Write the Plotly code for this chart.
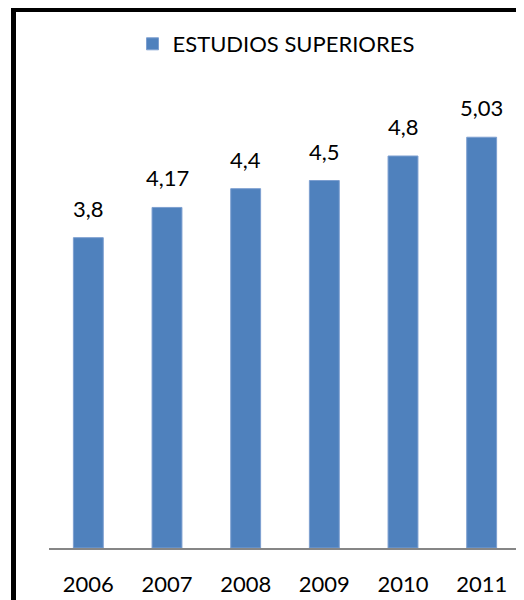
import plotly.graph_objects as go

years = ["2006", "2007", "2008", "2009", "2010", "2011"]
values = [3.8, 4.17, 4.4, 4.5, 4.8, 5.03]
labels = ["3,8", "4,17", "4,4", "4,5", "4,8", "5,03"]
series_name = "ESTUDIOS SUPERIORES"

# page body keeps its default 8px margin, so the figure starts at (8, 8)
OFF = 8
W, H = 524 - OFF, 600 - OFF
PLOT_L, PLOT_R, PLOT_T, PLOT_B = 49, 521, 58, 548   # window pixels
ML = PLOT_L - OFF
MR = W - (PLOT_R - OFF)
MT = PLOT_T - OFF
MB = H - (PLOT_B - OFF)
pw = W - ML - MR
ph = H - MT - MB

def px_x(p):
    return (p - OFF - ML) / pw

def px_y(p):
    return (H - MB - (p - OFF)) / ph

FONT = "Lato"

fig = go.Figure()
fig.add_trace(go.Bar(
    x=years, y=values, name=series_name,
    marker=dict(color="#4F81BD", line=dict(color="#7d9fd0", width=1)),
    width=0.38,
))

for i, (v, t) in enumerate(zip(values, labels)):
    fig.add_annotation(x=i, y=v, text=t, showarrow=False, yanchor="bottom",
                       yshift=14, font=dict(family=FONT, size=22, color="#000000"))

shapes = [
    dict(type="line", xref="paper", yref="paper", x0=px_x(11), x1=px_x(524),
         y0=px_y(10), y1=px_y(10), line=dict(color="#000000", width=4), layer="above"),
    dict(type="line", xref="paper", yref="paper", x0=px_x(13.5), x1=px_x(13.5),
         y0=px_y(8), y1=px_y(600), line=dict(color="#000000", width=5), layer="above"),
    dict(type="line", xref="paper", yref="paper", x0=px_x(522.5), x1=px_x(522.5),
         y0=px_y(12), y1=px_y(600), line=dict(color="#868686", width=1)),
]

fig.update_layout(
    width=W, height=H,
    margin=dict(l=ML, r=MR, t=MT, b=MB, autoexpand=False),
    paper_bgcolor="#ffffff", plot_bgcolor="#ffffff",
    font=dict(family=FONT, size=22, color="#000000"),
    showlegend=True,
    legend=dict(orientation="h", x=px_x(276), xanchor="center", y=px_y(44), yanchor="middle",
                font=dict(family=FONT, size=22), itemwidth=30, bgcolor="rgba(0,0,0,0)"),
    bargap=0.62,
    shapes=shapes,
    xaxis=dict(type="category", range=[-0.5, len(years) - 0.5], autorange=False,
               showline=True, linecolor="#868686", linewidth=1.5, ticks="", zeroline=False,
               showgrid=False, tickfont=dict(family=FONT, size=22, color="#000000"),
               ticklabelstandoff=16, fixedrange=True),
    yaxis=dict(range=[0, 6], autorange=False, visible=False, showgrid=False,
               zeroline=False, fixedrange=True),
)

fig.write_html("out.html", config={"displayModeBar": False})
